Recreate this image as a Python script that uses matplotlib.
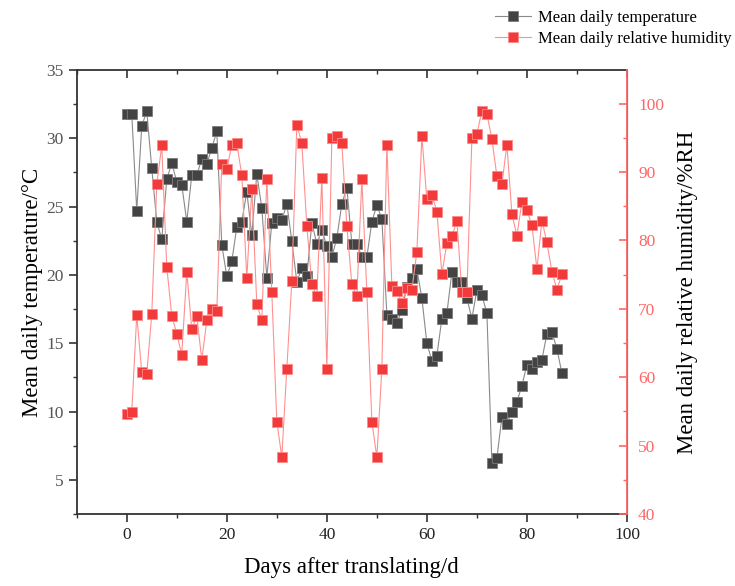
import matplotlib.pyplot as plt
from matplotlib.ticker import MultipleLocator

plt.rcParams['font.family'] = ['Liberation Serif', 'DejaVu Serif']

# Days after translating
days = list(range(0, 88))

# Mean daily temperature (°C)
temperature = [
    31.8, 31.8, 24.7, 30.9, 32.0, 27.8, 23.9, 22.6, 27.0, 28.2,
    26.8, 26.6, 23.9, 27.3, 27.3, 28.5, 28.1, 29.3, 30.5, 22.2,
    19.9, 21.0, 23.5, 23.9, 26.1, 22.9, 27.4, 24.9, 19.8, 23.8,
    24.2, 24.0, 25.2, 22.5, 19.5, 20.5, 19.9, 23.8, 22.3, 23.3,
    22.1, 21.3, 22.7, 25.2, 26.4, 22.3, 22.3, 21.3, 21.3, 23.9,
    25.1, 24.1, 17.1, 16.8, 16.5, 17.4, 19.1, 19.8, 20.4, 18.3,
    15.0, 13.7, 14.1, 16.8, 17.2, 20.2, 19.5, 19.5, 18.3, 16.8,
    18.9, 18.5, 17.2, 6.2, 6.6, 9.6, 9.1, 10.0, 10.7, 11.9,
    13.4, 13.1, 13.6, 13.8, 15.7, 15.8, 14.6, 12.8,
]

# Mean daily relative humidity (%RH)
humidity = [
    54.6, 54.9, 69.1, 60.7, 60.5, 69.2, 88.2, 93.9, 76.1, 69.0,
    66.3, 63.3, 75.4, 67.0, 69.0, 62.5, 68.3, 69.9, 69.6, 91.2,
    90.5, 93.9, 94.2, 89.5, 74.5, 87.5, 70.7, 68.3, 88.9, 72.4,
    53.5, 48.3, 61.2, 74.0, 96.9, 94.2, 82.1, 73.6, 71.8, 89.1,
    61.2, 94.9, 95.3, 94.2, 82.1, 73.6, 71.8, 88.9, 72.4, 53.5,
    48.3, 61.2, 94.0, 73.3, 72.6, 70.9, 73.0, 72.8, 78.3, 95.2,
    86.0, 86.6, 84.2, 75.1, 79.6, 80.6, 82.8, 72.4, 72.4, 94.9,
    95.6, 98.9, 98.5, 94.8, 89.4, 88.2, 94.0, 83.8, 80.7, 85.6,
    84.4, 82.2, 75.8, 82.9, 79.7, 75.4, 72.8, 75.1,
]

RED = '#f23a3a'
RED_LIGHT = '#ff6666'

fig = plt.figure(figsize=(7.35, 5.86), dpi=100)
ax = fig.add_axes([0.1044, 0.1229, 0.7486, 0.7576])
ax2 = ax.twinx()

l1, = ax.plot(days, temperature, color='#8a8a8a', lw=0.8, marker='s',
              markersize=6.5, markerfacecolor='#434343',
              markeredgecolor='#7a7a7a', markeredgewidth=0.6,
              label='Mean daily temperature', zorder=3)
l2, = ax2.plot(days, humidity, color='#ff9090', lw=0.8, marker='s',
               markersize=6.5, markerfacecolor=RED,
               markeredgecolor='#ff8a8a', markeredgewidth=0.6,
               label='Mean daily relative humidity', zorder=3)

ax.set_xlim(-10, 100)
ax.set_ylim(2.5, 35)
ax2.set_ylim(40, 104.9)

ax.xaxis.set_major_locator(MultipleLocator(20))
ax.xaxis.set_minor_locator(MultipleLocator(10))
ax.yaxis.set_major_locator(MultipleLocator(5))
ax.yaxis.set_minor_locator(MultipleLocator(2.5))
ax2.yaxis.set_major_locator(MultipleLocator(10))
ax2.yaxis.set_minor_locator(MultipleLocator(5))

for s in ['left', 'bottom', 'top']:
    ax.spines[s].set_color('#333333')
    ax.spines[s].set_linewidth(1.3)
ax2.spines['right'].set_color(RED_LIGHT)
ax2.spines['right'].set_linewidth(1.3)
for s in ['left', 'bottom', 'top']:
    ax2.spines[s].set_visible(False)

ax.tick_params(axis='x', which='both', direction='out', top=True,
               labelsize=12.5, colors='#333333', labelcolor='#222222')
ax.tick_params(axis='x', which='major', length=6, width=1.2)
ax.tick_params(axis='x', which='minor', length=3, width=1.0)
ax.tick_params(axis='y', which='both', direction='out', colors='#333333',
               labelsize=12.5, labelcolor='#555555')
ax.tick_params(axis='y', which='major', length=6, width=1.2)
ax.tick_params(axis='y', which='minor', length=3, width=1.0)
# top ticks point inward
for t in ax.xaxis.get_major_ticks() + ax.xaxis.get_minor_ticks():
    t.tick2line.set_marker(3)

ax2.tick_params(axis='y', which='both', direction='in', colors=RED_LIGHT,
                labelsize=12.5, labelcolor=RED_LIGHT, pad=8)
ax2.tick_params(axis='y', which='major', length=6, width=1.2)
ax2.tick_params(axis='y', which='minor', length=3, width=1.0)

ax.set_xlabel('Days after translating/d', fontsize=16.5, labelpad=10)
ax.set_ylabel('Mean daily temperature/°C', fontsize=16.5, labelpad=2)
ax2.set_ylabel('Mean daily relative humidity/%RH', fontsize=16.5, labelpad=9)

fig.legend(handles=[l1, l2], loc='upper right', bbox_to_anchor=(1.009, 1.0),
           frameon=False, fontsize=12, handlelength=2.2, handletextpad=0.4,
           labelspacing=0.3, borderaxespad=0.2)

fig.savefig('out.png', dpi=100)
